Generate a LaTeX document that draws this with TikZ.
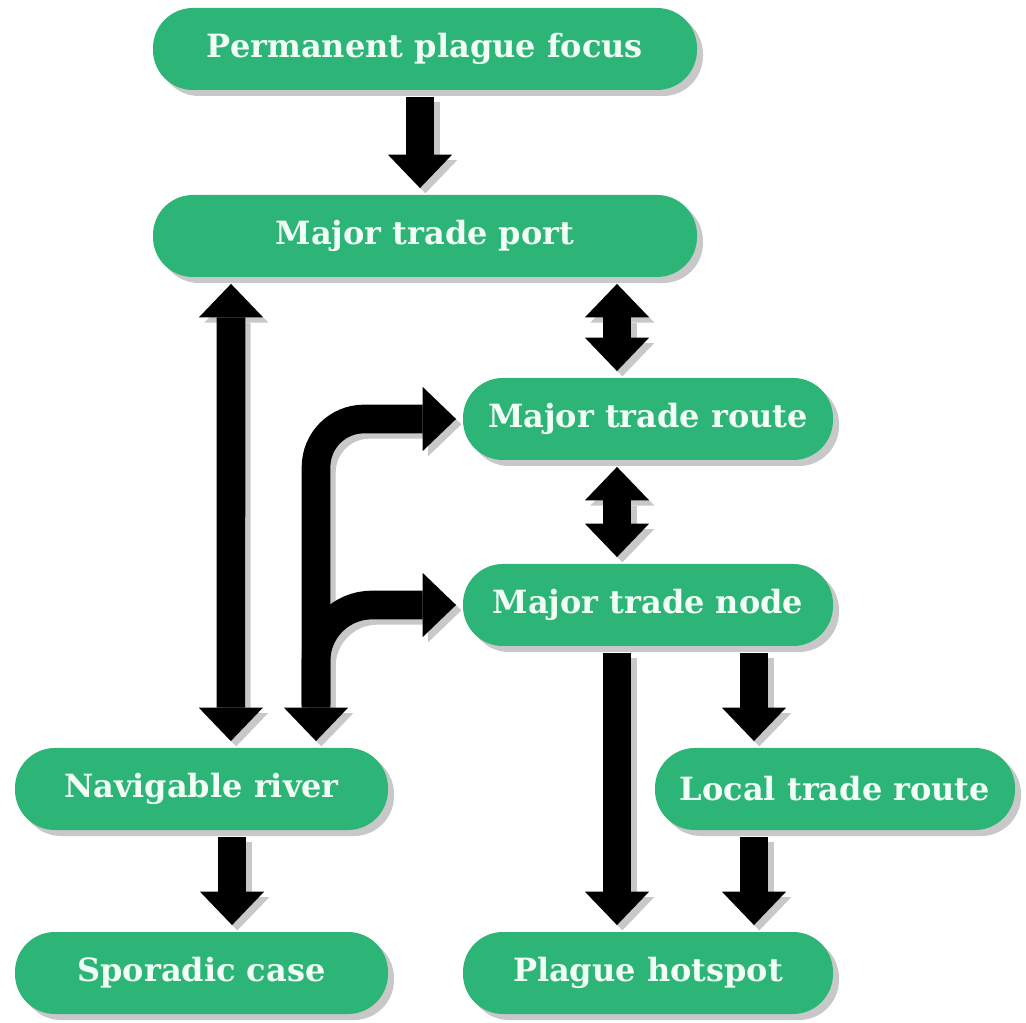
\documentclass[tikz,border=0pt]{standalone}
\usepackage{fontspec}
\setmainfont{DejaVu Serif}
\usetikzlibrary{arrows.meta,shadows}
\definecolor{boxgreen}{RGB}{44,181,118}
\definecolor{boxtext}{RGB}{242,255,246}
\definecolor{shadowc}{RGB}{200,200,200}
\tikzset{
  pill/.style={rectangle, rounded corners=30pt, fill=boxgreen, inner sep=0pt,
    minimum height=61.5pt, text=boxtext, font=\fontsize{24}{28}\selectfont\bfseries,
    drop shadow={shadow xshift=4.5pt, shadow yshift=-4.5pt, fill=shadowc, opacity=1}},
  tipshape/.style={-{Triangle[length=25pt,width=48pt,line width=0pt]}},
  arr/.style={line width=21.5pt, tipshape, shorten <=5pt, shorten >=5pt},
  darr/.style={line width=21.5pt, {Triangle[length=25pt,width=48pt,line width=0pt]}-{Triangle[length=25pt,width=48pt,line width=0pt]}, shorten <=5pt, shorten >=5pt},
  bentlow/.style={rounded corners=42pt},
  benttop/.style={rounded corners=36pt}
}
\newcommand\myconnectors[1]{%
  \draw[arr,#1] ([xshift=-3.75pt]pf.south) -- ([xshift=-3.75pt]port.north);
  \draw[darr,#1] ([xshift=-145.5pt]port.south) -- ([xshift=22pt]river.north);
  \draw[darr,#1] ([xshift=144pt]port.south) -- ([xshift=-23.25pt]route.north);
  \draw[darr,#1] ([xshift=-23.25pt]route.south) -- ([xshift=-23.25pt]tnode.north);
  \draw[arr,#1] ([xshift=-23.25pt]tnode.south) -- ([xshift=-23.25pt]hot.north);
  \draw[arr,#1] ([xshift=79.5pt]tnode.south) -- ([xshift=-60.75pt]local.north);
  \draw[arr,#1] ([xshift=-60.75pt]local.south) -- ([xshift=79.5pt]hot.north);
  \draw[arr,#1] ([xshift=22.9pt]river.south) -- ([xshift=22.9pt]spor.north);
  \draw[arr,#1,bentlow,shorten <=0pt] (fb) |- (tnode.west);
  \draw[darr,#1,benttop] ([xshift=85.9pt]river.north) |- (route.west);
}
\begin{document}
\begin{tikzpicture}[x=0.75pt,y=-0.75pt]
\useasboundingbox[fill=white] (0,0) rectangle (1026,1023);
\node[pill, minimum width=408pt]    (pf)    at (425,49)   {Permanent plague focus};
\node[pill, minimum width=408pt]    (port)  at (425,236)  {Major trade port};
\node[pill, minimum width=277.5pt]  (route) at (648,419)  {Major trade route};
\node[pill, minimum width=277.5pt]  (tnode) at (648,605)  {Major trade node};
\node[pill, minimum width=279.75pt] (river) at (201.5,789) {Navigable river};
\node[pill, minimum width=270pt]    (local) at (835,789)  {Local trade route};
\node[pill, minimum width=279.75pt] (spor)  at (201.5,973) {Sporadic case};
\node[pill, minimum width=277.5pt]  (hot)   at (648,973)  {Plague hotspot};
\coordinate (fb) at (316,705);
\begin{scope}[transform canvas={shift={(4pt,-4pt)}}]
  \myconnectors{shadowc}
\end{scope}
\myconnectors{black}
\end{tikzpicture}
\end{document}
